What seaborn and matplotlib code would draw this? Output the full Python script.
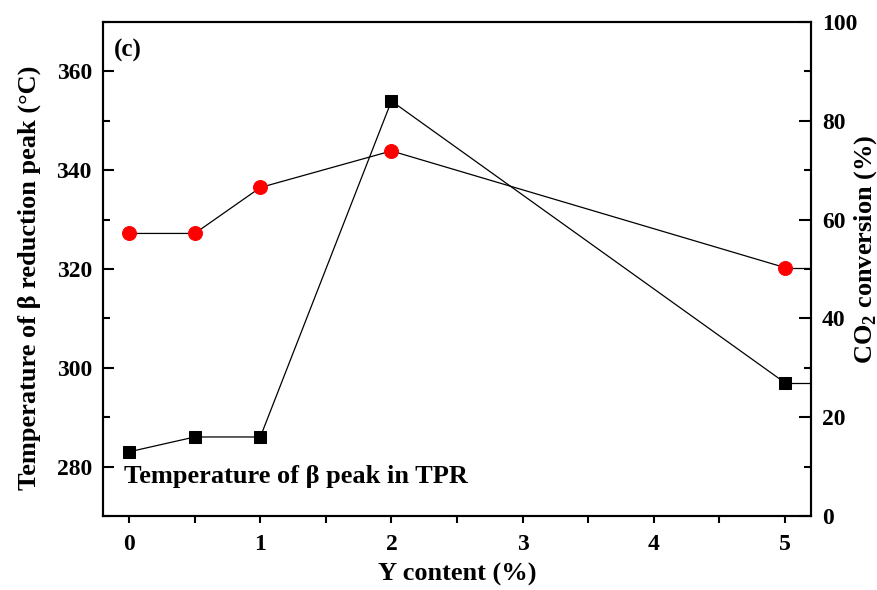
import numpy as np
import pandas as pd
import seaborn as sns
import matplotlib.pyplot as plt
from matplotlib.ticker import MultipleLocator

# data
y_content = [0, 0.5, 1, 2, 5]
beta_temp = [283, 286, 286, 354, 297]        # left axis, black squares
co2_conv = [57.2, 57.2, 66.5, 73.9, 50.3]    # right axis, red circles

sns.set_style("ticks")
plt.rcParams['font.family'] = ['Liberation Serif', 'DejaVu Serif']
plt.rcParams['font.weight'] = 'bold'
plt.rcParams['axes.linewidth'] = 1.5
plt.rcParams['text.color'] = 'black'
plt.rcParams['axes.labelcolor'] = 'black'
plt.rcParams['xtick.color'] = 'black'
plt.rcParams['ytick.color'] = 'black'
plt.rcParams['axes.edgecolor'] = 'black'
plt.rcParams['mathtext.fontset'] = 'custom'
plt.rcParams['mathtext.rm'] = 'Liberation Serif'
plt.rcParams['mathtext.bf'] = 'Liberation Serif:bold'

fig = plt.figure(figsize=(8.78, 5.90), dpi=100)
ax = fig.add_axes([0.1173, 0.1254, 0.8064, 0.8373])
ax2 = ax.twinx()

df = pd.DataFrame({"Y": y_content, "T": beta_temp, "C": co2_conv})

sns.lineplot(data=df, x="Y", y="T", ax=ax, color="black", marker="s",
             markersize=9, linewidth=0.9, markeredgecolor="black")
sns.lineplot(data=df, x="Y", y="C", ax=ax2, color="black", marker="o",
             markersize=10, linewidth=0.9, markerfacecolor="red",
             markeredgecolor="red")

ax.set_xlim(-0.2, 5.2)
ax.set_ylim(270, 370)
ax2.set_ylim(0, 100)

# short stubs from the last points to the right frame, as in the original
xr = ax.get_xlim()[1]
ax.hlines(beta_temp[-1], y_content[-1], xr, color="black", linewidth=0.9,
          zorder=1)
ax2.hlines(co2_conv[-1], y_content[-1], xr, color="black", linewidth=0.9,
           zorder=1)

ax.xaxis.set_major_locator(MultipleLocator(1))
ax.xaxis.set_minor_locator(MultipleLocator(0.5))
ax.yaxis.set_major_locator(MultipleLocator(20))
ax.yaxis.set_minor_locator(MultipleLocator(10))
ax2.yaxis.set_major_locator(MultipleLocator(20))
ax2.yaxis.set_minor_locator(MultipleLocator(10))

ax.tick_params(axis='x', which='major', direction='out', length=5, width=1.5,
               labelsize=17, pad=8)
ax.tick_params(axis='x', which='minor', direction='out', length=5, width=1.5)
ax.tick_params(axis='y', which='major', direction='in', length=8, width=1.5,
               labelsize=17, pad=8)
ax.tick_params(axis='y', which='minor', direction='in', length=5, width=1.5)
ax2.tick_params(axis='y', which='major', direction='in', length=9, width=1.5,
                labelsize=17, pad=8)
ax2.tick_params(axis='y', which='minor', direction='in', length=5, width=1.5)

for a in (ax, ax2):
    for lab in a.get_xticklabels() + a.get_yticklabels():
        lab.set_fontweight('bold')

ax.set_xlabel("Y content (%)", fontsize=19, fontweight='bold', labelpad=6)
ax.set_ylabel("Temperature of β reduction peak (°C)", fontsize=19,
              fontweight='bold')
ax.yaxis.set_label_coords(-0.088, 0.483)
ax2.set_ylabel("CO$_\\mathbf{2}$ conversion (%)", fontsize=19,
               fontweight='bold')
ax2.yaxis.set_label_coords(1.058, 0.54)

ax.text(0.015, 0.965, "(c)", transform=ax.transAxes, fontsize=18,
        fontweight='bold', va='top', ha='left')
ax.text(0.03, 0.079, "Temperature of β peak in TPR", transform=ax.transAxes,
        fontsize=19, fontweight='bold', va='center', ha='left')

fig.savefig("out.png", dpi=100)
